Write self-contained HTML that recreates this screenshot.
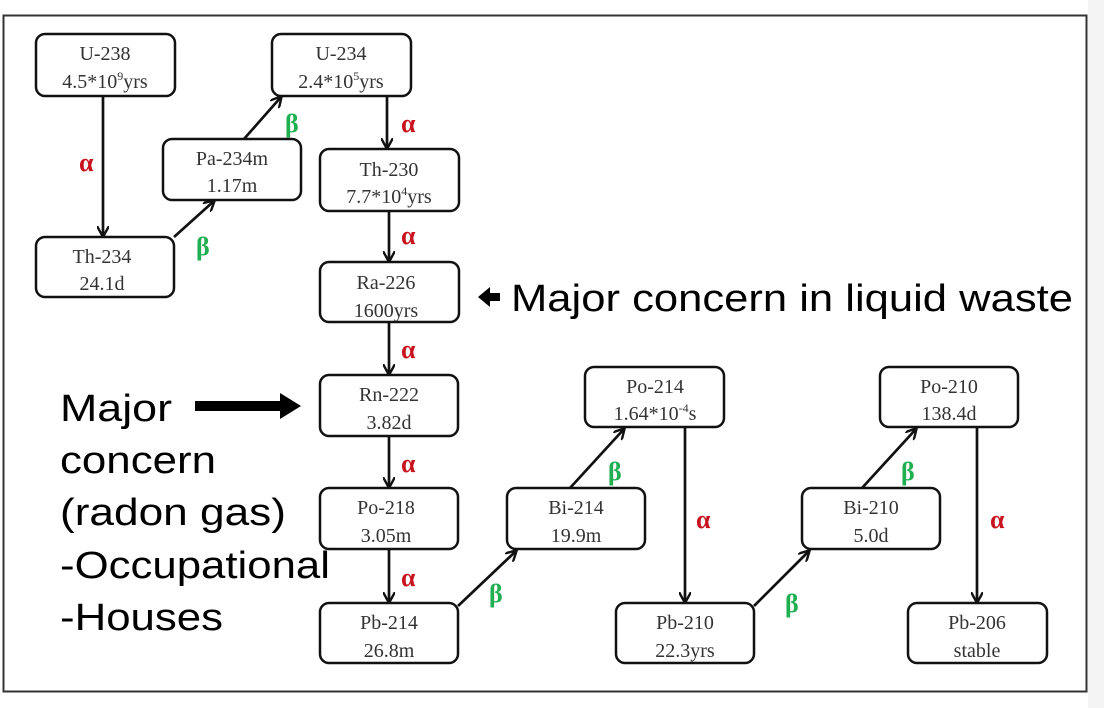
<!DOCTYPE html>
<html><head><style>
html,body{margin:0;padding:0;background:#fff;}
svg{display:block;}
.b{fill:#fff;stroke:#111;stroke-width:2.5;}
.t{font-family:"Liberation Serif",serif;font-size:20px;fill:#333;text-anchor:middle;}
.a{font-family:"Liberation Serif",serif;font-size:26px;font-weight:bold;fill:#c8141e;}
.be{font-family:"Liberation Serif",serif;font-size:26px;font-weight:bold;fill:#1fae50;}
.l{stroke:#111;stroke-width:2.7;fill:none;marker-end:url(#ar);}
.s{font-family:"Liberation Sans",sans-serif;font-size:38px;fill:#000;}
</style></head><body>
<svg width="1104" height="708" viewBox="0 0 1104 708">
<defs><marker id="ar" markerWidth="12" markerHeight="12" refX="10" refY="6" orient="auto" markerUnits="userSpaceOnUse"><path d="M0,0 L11,6 L0,12" fill="none" stroke="#111" stroke-width="2.4"/></marker></defs>
<rect x="0" y="0" width="1104" height="708" fill="#fff"/>
<rect x="1088" y="0" width="16" height="708" fill="#f4f4f4"/>
<rect x="3.5" y="15.5" width="1083" height="676" fill="#fff" stroke="#333" stroke-width="2"/>
<g>
<rect class="b" x="36" y="34" width="139" height="62" rx="9"/><text class="t" x="105" y="60">U-238</text><text class="t" x="105" y="88">4.5*10<tspan font-size="12" dy="-8">9</tspan><tspan dy="8">yrs</tspan></text>
<rect class="b" x="272" y="34" width="139" height="62" rx="9"/><text class="t" x="341" y="60">U-234</text><text class="t" x="341" y="88">2.4*10<tspan font-size="12" dy="-8">5</tspan><tspan dy="8">yrs</tspan></text>
<rect class="b" x="163" y="139" width="138" height="61" rx="9"/><text class="t" x="232" y="165">Pa-234m</text><text class="t" x="232" y="192">1.17m</text>
<rect class="b" x="36" y="237" width="138" height="60" rx="9"/><text class="t" x="102" y="263">Th-234</text><text class="t" x="102" y="290">24.1d</text>
<rect class="b" x="320" y="149" width="139" height="62" rx="9"/><text class="t" x="389" y="176">Th-230</text><text class="t" x="389" y="203">7.7*10<tspan font-size="12" dy="-8">4</tspan><tspan dy="8">yrs</tspan></text>
<rect class="b" x="320" y="262" width="139" height="60" rx="9"/><text class="t" x="386" y="289">Ra-226</text><text class="t" x="386" y="317">1600yrs</text>
<rect class="b" x="320" y="375" width="138" height="61" rx="9"/><text class="t" x="389" y="401">Rn-222</text><text class="t" x="389" y="429">3.82d</text>
<rect class="b" x="320" y="488" width="138" height="61" rx="9"/><text class="t" x="386" y="514">Po-218</text><text class="t" x="386" y="542">3.05m</text>
<rect class="b" x="320" y="603" width="138" height="60" rx="9"/><text class="t" x="389" y="629">Pb-214</text><text class="t" x="389" y="657">26.8m</text>
<rect class="b" x="507" y="488" width="138" height="61" rx="9"/><text class="t" x="576" y="514">Bi-214</text><text class="t" x="576" y="542">19.9m</text>
<rect class="b" x="585" y="367" width="139" height="60" rx="9"/><text class="t" x="655" y="393">Po-214</text><text class="t" x="655" y="420">1.64*10<tspan font-size="12" dy="-8">-4</tspan><tspan dy="8">s</tspan></text>
<rect class="b" x="616" y="603" width="138" height="60" rx="9"/><text class="t" x="685" y="629">Pb-210</text><text class="t" x="685" y="657">22.3yrs</text>
<rect class="b" x="802" y="488" width="138" height="61" rx="9"/><text class="t" x="871" y="514">Bi-210</text><text class="t" x="871" y="542">5.0d</text>
<rect class="b" x="880" y="367" width="138" height="60" rx="9"/><text class="t" x="949" y="393">Po-210</text><text class="t" x="949" y="420">138.4d</text>
<rect class="b" x="908" y="603" width="139" height="60" rx="9"/><text class="t" x="977" y="629">Pb-206</text><text class="t" x="977" y="657">stable</text>
</g>
<path class="l" d="M103,96 L103,236"/>
<path class="l" d="M174,237 L214,201"/>
<path class="l" d="M244,139 L281,97"/>
<path class="l" d="M387,96 L387,148"/>
<path class="l" d="M389,211 L389,261"/>
<path class="l" d="M389,322 L389,374"/>
<path class="l" d="M389,436 L389,487"/>
<path class="l" d="M389,549 L389,602"/>
<path class="l" d="M458,606 L516,551"/>
<path class="l" d="M570,488 L624,429"/>
<path class="l" d="M685,427 L685,602"/>
<path class="l" d="M754,606 L809,551"/>
<path class="l" d="M862,488 L916,429"/>
<path class="l" d="M977,427 L977,602"/>
<text class="a" x="79" y="171">α</text>
<text class="be" x="196" y="255">β</text>
<text class="be" x="285" y="132">β</text>
<text class="a" x="401" y="132">α</text>
<text class="a" x="401" y="244">α</text>
<text class="a" x="401" y="358">α</text>
<text class="a" x="401" y="472">α</text>
<text class="a" x="401" y="586">α</text>
<text class="be" x="489" y="602">β</text>
<text class="be" x="608" y="480">β</text>
<text class="a" x="696" y="528">α</text>
<text class="be" x="785" y="612">β</text>
<text class="be" x="901" y="480">β</text>
<text class="a" x="990" y="528">α</text>
<polygon points="478,297 490,287 490,293 500,293 500,301 490,301 490,307" fill="#000"/>
<text class="s" x="511" y="311" textLength="562" lengthAdjust="spacingAndGlyphs">Major concern in liquid waste</text>
<polygon points="195,401 280,401 280,393 301,406 280,419 280,411 195,411" fill="#000"/>
<text class="s" x="60" y="421" textLength="112" lengthAdjust="spacingAndGlyphs">Major</text>
<text class="s" x="60" y="473" textLength="156" lengthAdjust="spacingAndGlyphs">concern</text>
<text class="s" x="60" y="525" textLength="226" lengthAdjust="spacingAndGlyphs">(radon gas)</text>
<text class="s" x="60" y="578" textLength="270" lengthAdjust="spacingAndGlyphs">-Occupational</text>
<text class="s" x="60" y="630" textLength="163" lengthAdjust="spacingAndGlyphs">-Houses</text>
</svg>
</body></html>
